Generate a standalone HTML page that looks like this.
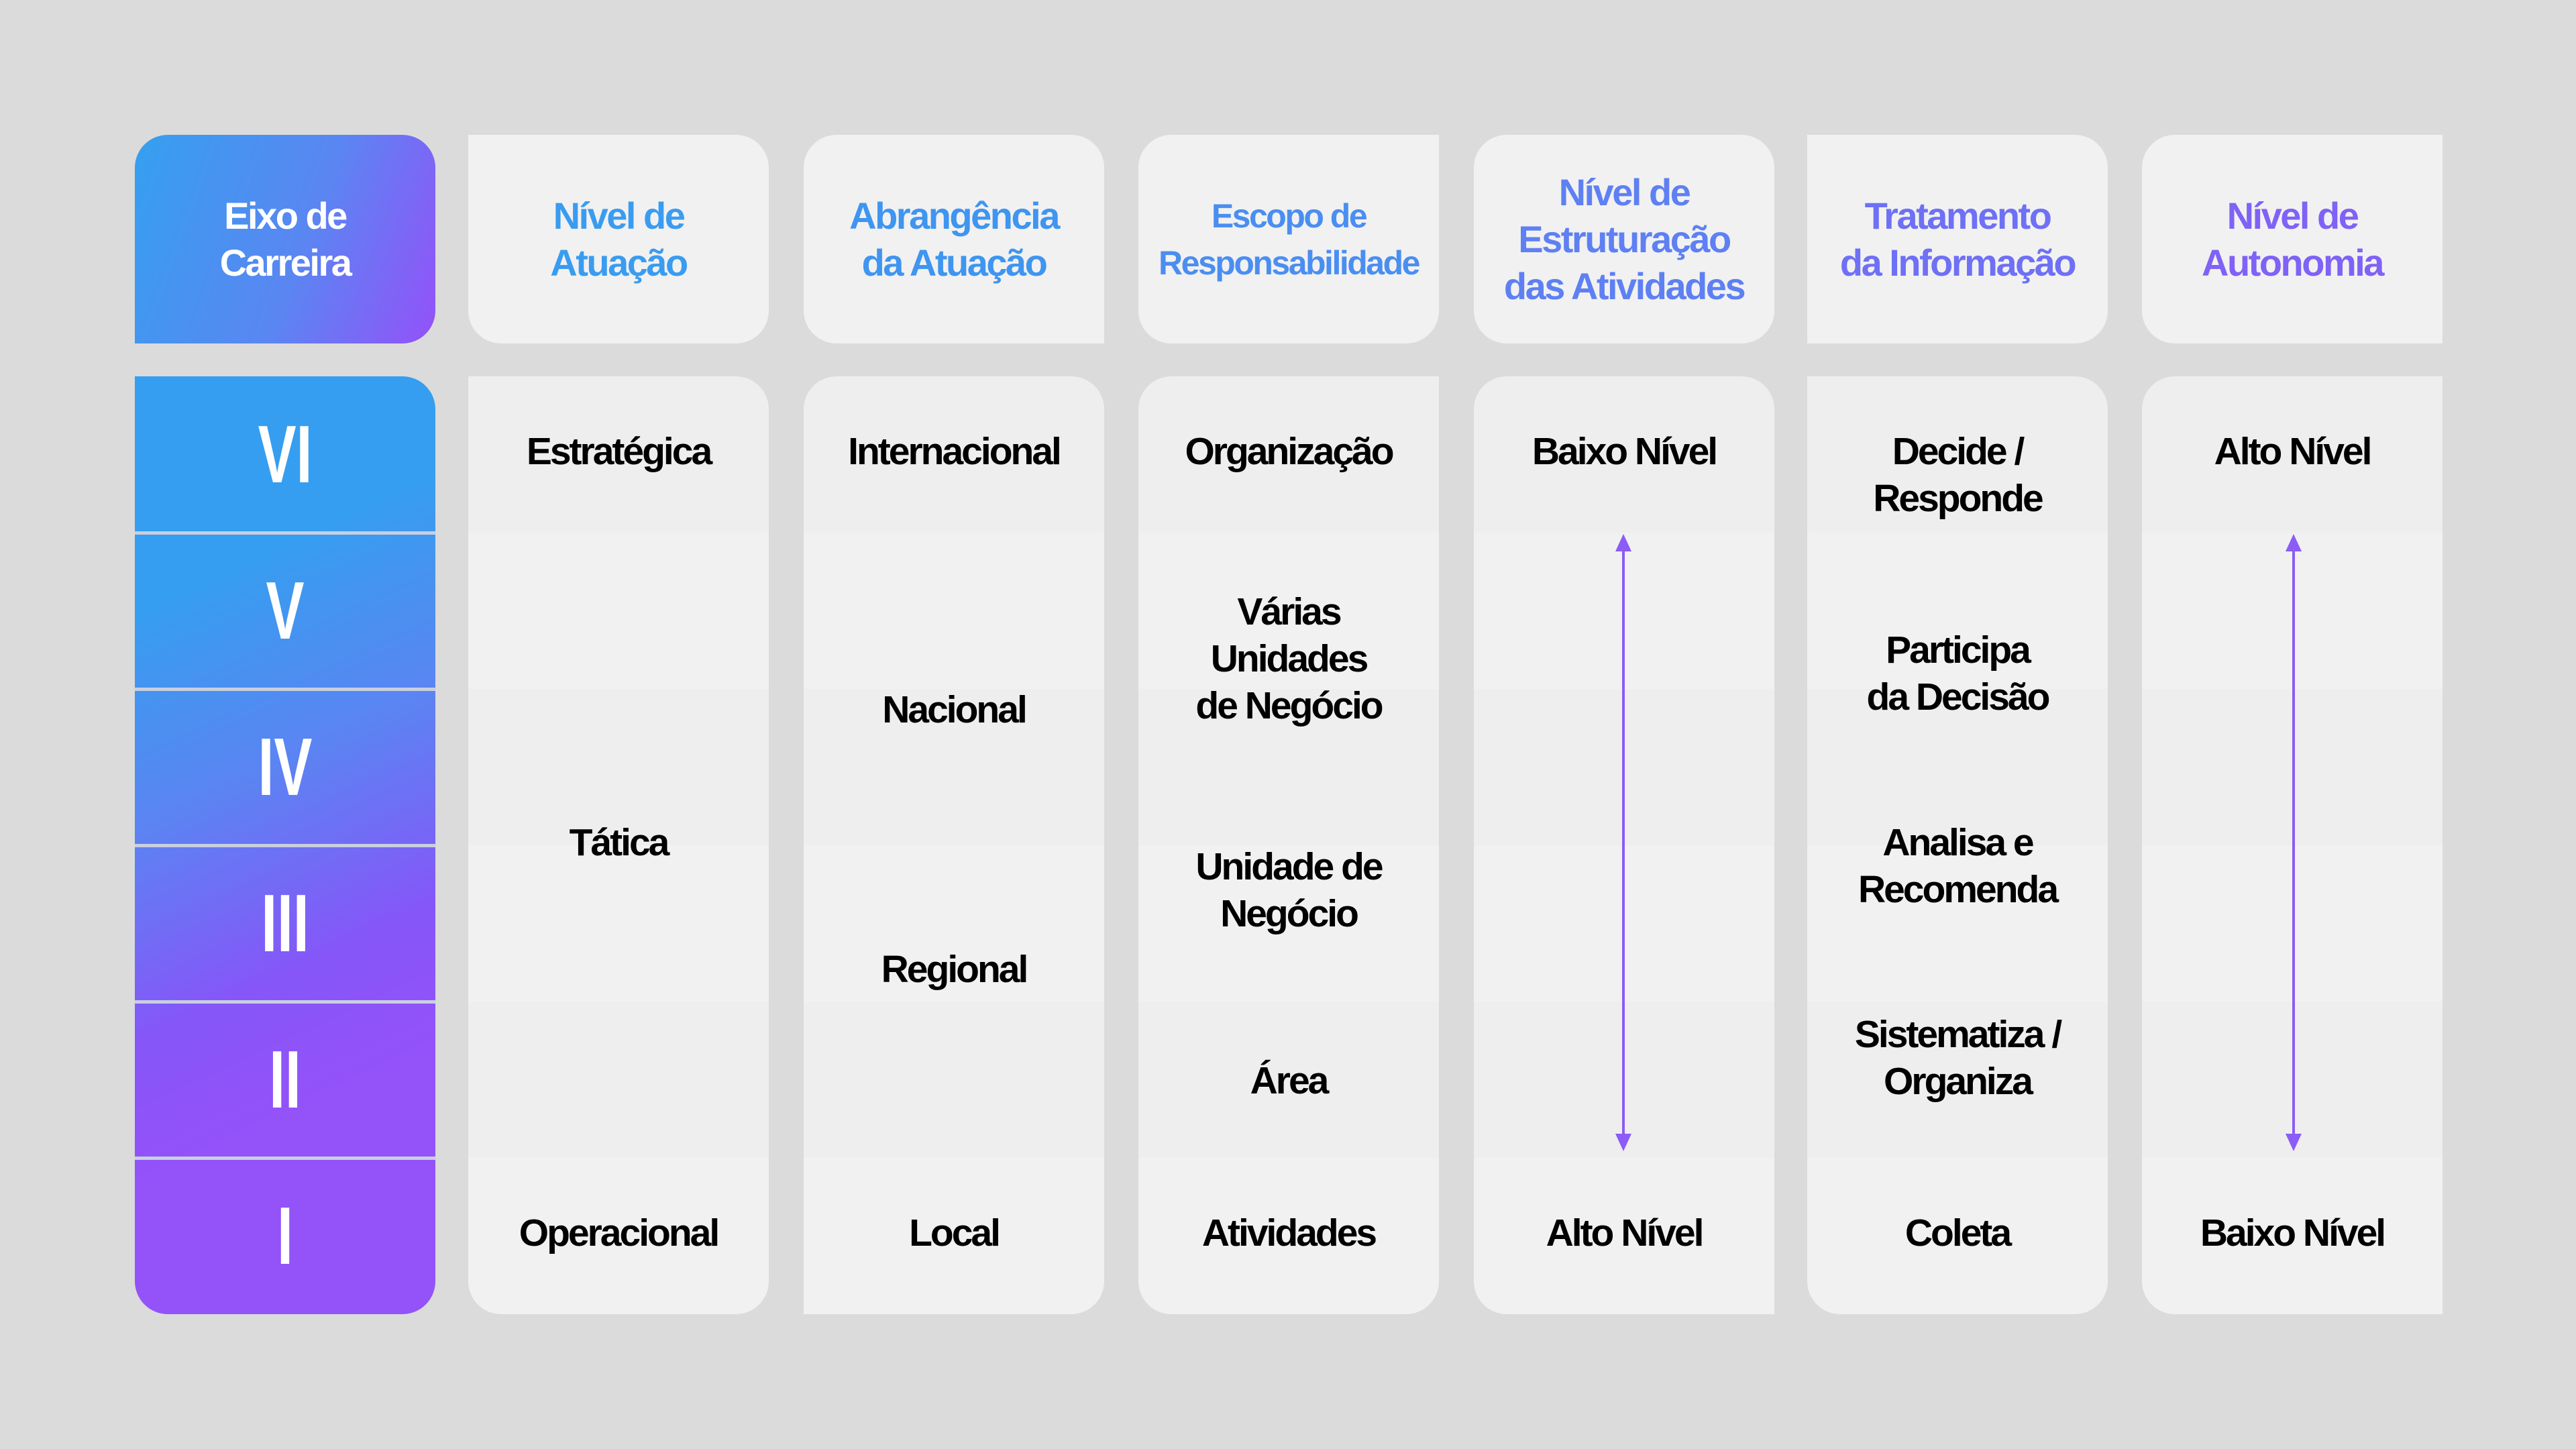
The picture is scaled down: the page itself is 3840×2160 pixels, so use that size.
<!DOCTYPE html>
<html><head><meta charset="utf-8"><style>
*{margin:0;padding:0;box-sizing:border-box}
body{width:3840px;height:2160px;background:#dbdbdb;position:relative;overflow:hidden;font-family:"Liberation Sans",sans-serif;font-weight:bold}
.c{position:absolute;width:448px;overflow:hidden}
.h{top:201px;height:311px;background:#f1f1f1;display:flex;align-items:center;justify-content:center;text-align:center;font-size:56px;line-height:70px;letter-spacing:-2.5px}
.b{top:561px;height:1398px;background:repeating-linear-gradient(#eeeeee 0 233px,#f1f1f1 233px 466px)}
.t{position:absolute;left:0;width:448px;text-align:center;font-size:57px;line-height:70px;letter-spacing:-3px;color:#000;transform:translateY(-50%)}
.n{position:absolute;left:0;width:448px;text-align:center;color:#fff;font-weight:bold;font-size:122px;line-height:122px;transform:translateY(-50%) scaleX(0.7)}
.sep{position:absolute;left:0;width:448px;height:5px;background:#c8cfe0}
</style></head><body>
<div class="c h" style="left:201px;border-radius:49px 49px 49px 0;background:linear-gradient(110deg,#35a0ef 0%,#5a86f2 55%,#9451f9 100%);color:#fff">Eixo de<br>Carreira</div>
<div class="c h" style="left:698px;border-radius:0 49px 49px 49px;color:#3a9cf0">Nível de<br>Atuação</div>
<div class="c h" style="left:1198px;border-radius:49px 49px 0 49px;color:#3f95f0">Abrangência<br>da Atuação</div>
<div class="c h" style="left:1697px;border-radius:49px 0 49px 49px;color:#4a8ef1;font-size:50px;line-height:70px">Escopo de<br>Responsabilidade</div>
<div class="c h" style="left:2197px;border-radius:49px;color:#5e80f3">Nível de<br>Estruturação<br>das Atividades</div>
<div class="c h" style="left:2694px;border-radius:0 49px 49px 0;color:#6e70f5">Tratamento<br>da Informação</div>
<div class="c h" style="left:3193px;border-radius:49px 0 0 49px;color:#7f62f6">Nível de<br>Autonomia</div>

<div class="c" style="left:201px;top:561px;height:1398px;border-radius:0 49px 49px 49px;background:linear-gradient(155deg,#369ef0 0%,#369ef0 22%,#5b84f2 42%,#8656f8 62%,#9452f9 75%)">
<div class="sep" style="top:231px"></div><div class="sep" style="top:464px"></div><div class="sep" style="top:697px"></div><div class="sep" style="top:930px"></div><div class="sep" style="top:1163px"></div>
<div class="n" style="top:116px">VI</div>
<div class="n" style="top:349px">V</div>
<div class="n" style="top:582px">IV</div>
<div class="n" style="top:815px">III</div>
<div class="n" style="top:1048px">II</div>
<div class="n" style="top:1281px">I</div>
</div>

<div class="c b" style="left:698px;border-radius:0 49px 49px 49px">
<div class="t" style="top:112px">Estratégica</div>
<div class="t" style="top:695px">Tática</div>
<div class="t" style="top:1277px">Operacional</div>
</div>
<div class="c b" style="left:1198px;border-radius:49px 49px 49px 0">
<div class="t" style="top:112px">Internacional</div>
<div class="t" style="top:497px">Nacional</div>
<div class="t" style="top:884px">Regional</div>
<div class="t" style="top:1277px">Local</div>
</div>
<div class="c b" style="left:1697px;border-radius:49px 0 49px 49px">
<div class="t" style="top:112px">Organização</div>
<div class="t" style="top:421px">Várias<br>Unidades<br>de Negócio</div>
<div class="t" style="top:766px">Unidade de<br>Negócio</div>
<div class="t" style="top:1050px">Área</div>
<div class="t" style="top:1277px">Atividades</div>
</div>
<div class="c b" style="left:2197px;border-radius:49px 49px 0 49px">
<div class="t" style="top:112px">Baixo Nível</div>
<div class="t" style="top:1277px">Alto Nível</div>
</div>
<div class="c b" style="left:2694px;border-radius:0 49px 49px 49px">
<div class="t" style="top:147px">Decide /<br>Responde</div>
<div class="t" style="top:443px">Participa<br>da Decisão</div>
<div class="t" style="top:730px">Analisa e<br>Recomenda</div>
<div class="t" style="top:1016px">Sistematiza /<br>Organiza</div>
<div class="t" style="top:1277px">Coleta</div>
</div>
<div class="c b" style="left:3193px;border-radius:49px 0 0 49px">
<div class="t" style="top:112px">Alto Nível</div>
<div class="t" style="top:1277px">Baixo Nível</div>
</div>

<svg style="position:absolute;left:0;top:0" width="3840" height="2160">
<g stroke="#8b5cf6" stroke-width="4">
<line x1="2420" y1="800" x2="2420" y2="1712"/>
<line x1="3419" y1="800" x2="3419" y2="1712"/>
</g>
<path d="M2420,796 l-12,26 h24z M2420,1716 l-12,-26 h24z M3419,796 l-12,26 h24z M3419,1716 l-12,-26 h24z" fill="#8b5cf6"/>
</svg>
</body></html>
